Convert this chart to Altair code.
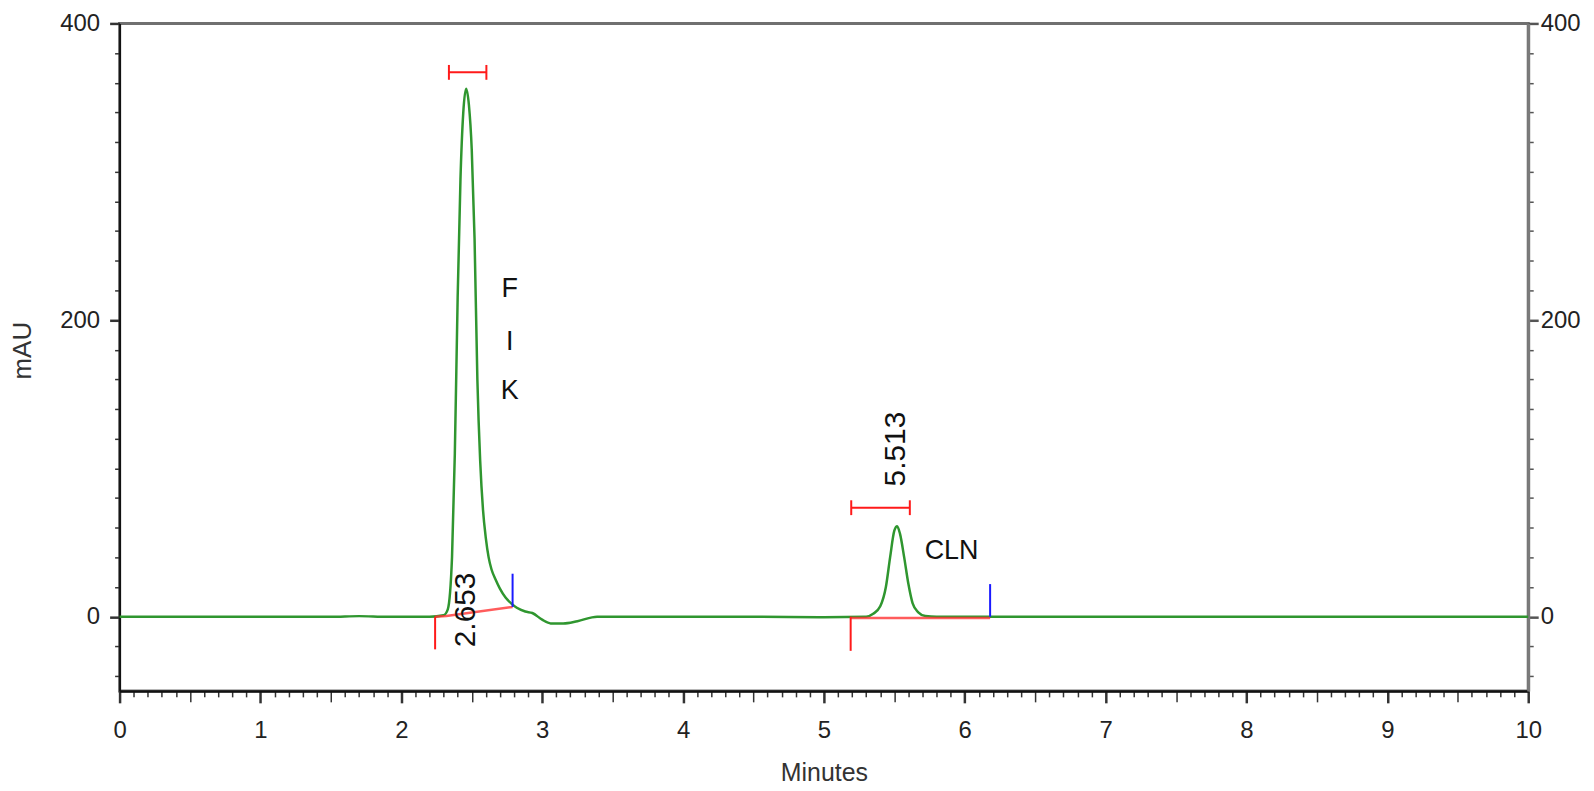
import altair as alt
import pandas as pd

# ---- chromatogram trace (minutes, mAU) ----
time_min = [0.00, 0.50, 1.00, 1.50, 1.70, 1.90, 2.20, 2.30, 2.33, 2.36, 2.38, 2.40, 2.42,
            2.44, 2.46, 2.48, 2.50, 2.52, 2.54, 2.56, 2.58, 2.60, 2.62, 2.64, 2.67, 2.70,
            2.74, 2.78, 2.82, 2.88, 2.93, 3.00, 3.06, 3.15, 3.25, 3.39, 4.00, 4.50, 5.00,
            5.30, 5.35, 5.40, 5.44, 5.47, 5.50, 5.52, 5.54, 5.57, 5.60, 5.63, 5.67, 5.72,
            5.80, 6.50, 8.00, 10.00]
signal_mau = [0, 0, 0, 0, 0.4, 0, 0, 1, 5, 40, 110, 215, 295,
              340, 356, 345, 315, 255, 160, 105, 72, 53, 40, 32, 25, 19,
              13, 9, 6, 3.5, 2.5, -2, -4.5, -4.5, -3, 0, 0, 0, -0.3,
              0, 2, 7, 20, 40, 58, 61, 56, 40, 22, 9, 3, 0.5,
              0, 0, 0, 0]

# ---- integration baselines (red) ----
base_seg = ["p1", "p1", "p1", "p2", "p2"]
base_t = [2.24, 2.32, 2.79, 5.19, 6.18]
base_v = [0, 0.5, 6.6, -0.8, -0.8]

# ---- peak start / end markers ----
marker_t = [2.24, 2.79, 5.19, 6.18]
marker_from = [0, 6.6, 0, 0]
marker_to = [-22, 29, -23, 22]
marker_color = ["#ff1a1a", "#1a1aff", "#ff1a1a", "#1a1aff"]

# ---- peak width brackets ----
bracket_start = [2.338, 5.194]
bracket_end = [2.604, 5.61]
bracket_level = [367, 73.5]
cap_half = 5

# ---- text annotations ----
ann_text = ["F", "I", "K", "2.653", "5.513", "CLN"]
ann_t = [2.77, 2.77, 2.77, 2.458, 5.511, 5.906]
ann_v = [221, 185, 152, 4.6, 113, 44.5]
ann_angle = [0, 0, 0, 270, 270, 0]
ann_size = [27, 27, 27, 30, 30, 27]

# ---- axis ticks ----
x_ticks = [round(i / 10, 1) for i in range(0, 101)]
y_ticks = list(range(-40, 401, 20))

trace = pd.DataFrame({"t": time_min, "v": signal_mau})
base = pd.DataFrame({"seg": base_seg, "t": base_t, "v": base_v})
markers = pd.DataFrame({"t": marker_t, "v": marker_from, "v2": marker_to, "c": marker_color})
brackets = pd.DataFrame({"t": bracket_start, "t2": bracket_end, "v": bracket_level})
caps = pd.DataFrame({
    "t": bracket_start + bracket_end,
    "v": [l - cap_half for l in bracket_level] * 2,
    "v2": [l + cap_half for l in bracket_level] * 2,
})
ann = pd.DataFrame({"txt": ann_text, "t": ann_t, "v": ann_v, "a": ann_angle, "s": ann_size})

FONT = "Liberation Sans"

xscale = alt.Scale(domain=[0, 10], nice=False, zero=False)
yscale = alt.Scale(domain=[-50, 400], nice=False, zero=False)

is_int = "abs(datum.value - round(datum.value)) < 0.001"
is_half = "abs(datum.value*2 - round(datum.value*2)) < 0.001"

xax = alt.Axis(
    values=x_ticks,
    labelExpr=f"{is_int} ? format(datum.value, 'd') : ''",
    labelOverlap=False, labelFlush=False, labelBound=False,
    labelFont=FONT, labelFontSize=24, labelColor="#222222", labelPadding=16,
    tickSize={"condition": [{"test": is_int, "value": 12}, {"test": is_half, "value": 11}], "value": 6},
    tickWidth={"condition": {"test": is_int, "value": 2.5}, "value": 1.5},
    tickColor="#333333",
    domainColor="#111111", domainWidth=2.5,
    grid=False,
    title="Minutes", titleFont=FONT, titleFontSize=25, titleFontWeight="normal",
    titleColor="#333333", titleX=707, titleY=82, titleBaseline="middle", titleAlign="center",
)

def yaxis(orient):
    left = orient == "left"
    kw = dict(
        orient=orient,
        values=y_ticks,
        labelExpr="datum.value % 200 == 0 ? format(datum.value, 'd') : ''",
        labelOverlap=False, labelFlush=False, labelBound=False,
        labelFont=FONT, labelFontSize=24, labelColor="#222222",
        labelPadding=10 if left else 2,
        tickSize={"condition": {"test": "datum.value % 200 == 0", "value": 10}, "value": 5},
        tickWidth={"condition": {"test": "datum.value % 200 == 0", "value": 2.5}, "value": 1.5},
        tickColor="#333333" if left else "#555555",
        domainColor="#111111" if left else "#7a7a7a",
        domainWidth=2 if left else 3,
        grid=False,
    )
    if left:
        kw.update(title="mAU", titleFont=FONT, titleFontSize=26, titleFontWeight="normal",
                  titleColor="#333333", titleX=-97, titleY=328, titleAngle=270,
                  titleBaseline="middle", titleAlign="center")
    else:
        kw.update(title=None)
    return alt.Axis(**kw)

X = lambda f="t": alt.X(f"{f}:Q", scale=xscale, axis=xax)

line = alt.Chart(trace).mark_line(color="#2f962f", strokeWidth=2.5, interpolate="monotone").encode(
    x=X(), y=alt.Y("v:Q", scale=yscale, axis=yaxis("left"))
)

baseline = alt.Chart(base).mark_line(color="#ff3333", strokeWidth=2.5, opacity=0.8).encode(
    x=X(), y=alt.Y("v:Q", scale=yscale, axis=yaxis("right")), detail="seg:N"
)

mark_rules = alt.Chart(markers).mark_rule(strokeWidth=2).encode(
    x=X(), y=alt.Y("v:Q", scale=yscale, axis=None), y2="v2:Q",
    color=alt.Color("c:N", scale=None)
)

bracket_rules = alt.Chart(brackets).mark_rule(color="#ff1a1a", strokeWidth=2).encode(
    x=X(), x2="t2:Q", y=alt.Y("v:Q", scale=yscale, axis=None)
)

cap_rules = alt.Chart(caps).mark_rule(color="#ff1a1a", strokeWidth=2).encode(
    x=X(), y=alt.Y("v:Q", scale=yscale, axis=None), y2="v2:Q"
)

texts = alt.Chart(ann).mark_text(font=FONT, color="#111111", align="center", baseline="middle").encode(
    x=X(), y=alt.Y("v:Q", scale=yscale, axis=None), text="txt:N",
    angle=alt.Angle("a:Q", scale=None), size=alt.Size("s:Q", scale=None, legend=None)
)

chart = alt.layer(line, baseline, mark_rules, bracket_rules, cap_rules, texts).resolve_axis(
    y="independent"
).properties(
    width=1414, height=670,
    autosize=alt.AutoSizeParams(type="none"),
    padding={"left": 112, "top": 14, "right": 58, "bottom": 95},
).configure(
    background="white",
    view=alt.ViewConfig(stroke="#707070", strokeWidth=3),
)

chart.save("out.html", embed_options={"renderer": "svg", "actions": False})
